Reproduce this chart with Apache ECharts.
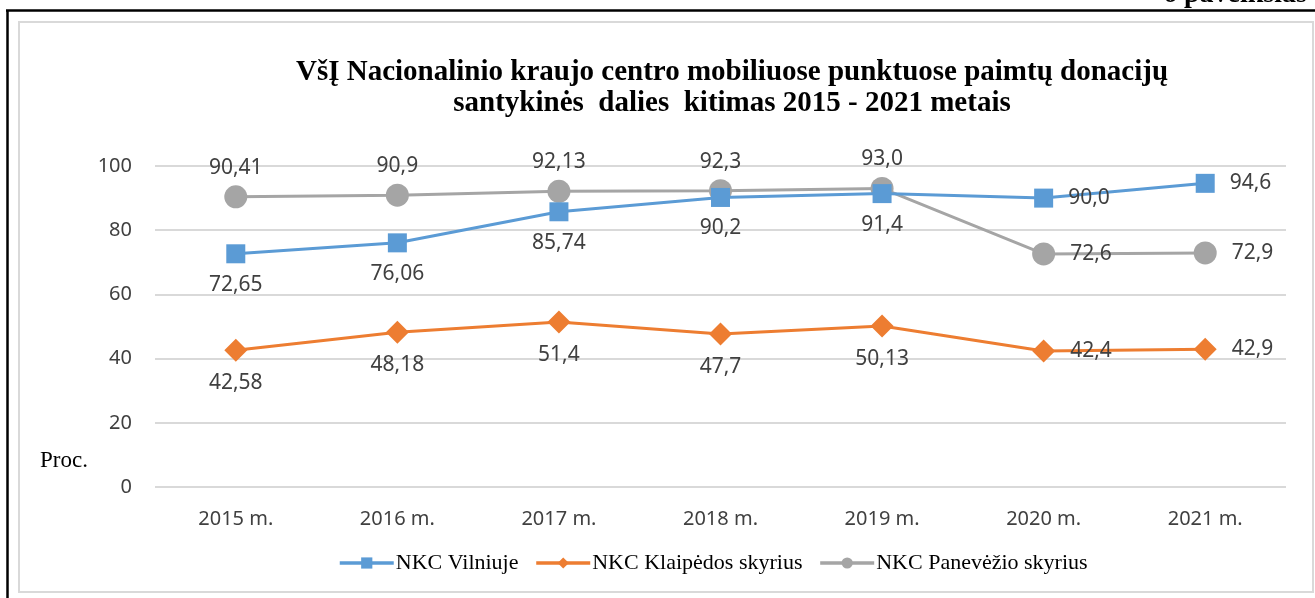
<!DOCTYPE html>
<html>
<head>
<meta charset="utf-8">
<script src="https://cdn.jsdelivr.net/npm/echarts@6/dist/echarts.min.js"></script>
<style>
  html, body { margin: 0; padding: 0; background: #fff; }
  #chart { width: 1315px; height: 598px; }
</style>
</head>
<body>
<div id="chart"></div>
<script>
const years = ["2015 m.", "2016 m.", "2017 m.", "2018 m.", "2019 m.", "2020 m.", "2021 m."];
const seriesNames = ["NKC Vilniuje", "NKC Klaipėdos skyrius", "NKC Panevėžio skyrius"];

const vilnius = [72.65, 76.06, 85.74, 90.2, 91.4, 90.0, 94.6];
const klaipeda = [42.58, 48.18, 51.4, 47.7, 50.13, 42.4, 42.9];
const panevezys = [90.41, 90.9, 92.13, 92.3, 93.0, 72.6, 72.9];

const vilniusLabels = ["72,65", "76,06", "85,74", "90,2", "91,4", "90,0", "94,6"];
const klaipedaLabels = ["42,58", "48,18", "51,4", "47,7", "50,13", "42,4", "42,9"];
const panevezysLabels = ["90,41", "90,9", "92,13", "92,3", "93,0", "72,6", "72,9"];

const yTicks = { min: 0, max: 100, interval: 20 };

const labelFont = { fontFamily: "Noto Sans", fontSize: 21, color: "#404040" };

// last two years get their labels on the right, the rest above / below
function withLabels(values, labels, side, dist) {
  return values.map((v, i) => ({
    value: v,
    label: {
      show: true,
      formatter: labels[i],
      position: i >= 5 ? "right" : side,
      distance: i >= 5 ? 15 : dist,
      ...labelFont
    }
  }));
}

const chart = echarts.init(document.getElementById("chart"));

chart.setOption({
  animation: false,
  color: ["#5B9BD5", "#ED7D31", "#A5A5A5"],
  title: {
    text: "VšĮ Nacionalinio kraujo centro mobiliuose punktuose paimtų donacijų\nsantykinės  dalies  kitimas 2015 - 2021 metais",
    left: 727,
    top: 52,
    textAlign: "center",
    textStyle: {
      fontFamily: "Liberation Serif",
      fontWeight: "bold",
      fontSize: 29,
      lineHeight: 31,
      color: "#000"
    }
  },
  grid: { left: 155, right: 29, top: 166, bottom: 111, containLabel: false },
  xAxis: {
    type: "category",
    data: years,
    boundaryGap: true,
    axisLine: { show: false },
    axisTick: { show: false },
    axisLabel: { margin: 22, fontFamily: "Noto Sans", fontSize: 20, color: "#404040" }
  },
  yAxis: {
    type: "value",
    min: yTicks.min,
    max: yTicks.max,
    interval: yTicks.interval,
    axisLine: { show: false },
    axisTick: { show: false },
    axisLabel: { margin: 23, fontFamily: "Noto Sans", fontSize: 20, color: "#404040" },
    splitLine: { lineStyle: { color: "#d9d9d9", width: 2 } }
  },
  legend: {
    bottom: 19,
    left: 333,
    itemWidth: 54,
    itemHeight: 14,
    itemGap: 16,
    lineStyle: { width: 3.5 },
    textStyle: { fontFamily: "Liberation Serif", fontSize: 22, color: "#000", padding: [0, 0, 0, -3] },
    data: seriesNames
  },
  graphic: [
    { type: "line", shape: { x1: 6, y1: 10.5, x2: 1315, y2: 10.5 }, style: { stroke: "#000", lineWidth: 2.5 } },
    { type: "line", shape: { x1: 7.5, y1: 10, x2: 7.5, y2: 598 }, style: { stroke: "#000", lineWidth: 2.5 } },
    { type: "rect", shape: { x: 19, y: 22, width: 1294, height: 570 }, style: { fill: "none", stroke: "#d9d9d9", lineWidth: 2 } },
    { type: "text", x: 1163, y: 9, style: { text: "6 paveikslas", font: "bold 28px 'Liberation Serif'", fill: "#000", textVerticalAlign: "bottom" } },
    { type: "text", x: 40, y: 461, style: { text: "Proc.", font: "23px 'Liberation Serif'", fill: "#000", textVerticalAlign: "middle" } }
  ],
  series: [
    {
      name: seriesNames[0],
      type: "line",
      symbol: "rect",
      symbolSize: 19,
      lineStyle: { width: 3 },
      data: withLabels(vilnius, vilniusLabels, "bottom", 11),
      z: 3
    },
    {
      name: seriesNames[1],
      type: "line",
      symbol: "diamond",
      symbolSize: 23,
      lineStyle: { width: 3 },
      data: withLabels(klaipeda, klaipedaLabels, "bottom", 11),
      z: 2
    },
    {
      name: seriesNames[2],
      type: "line",
      symbol: "circle",
      symbolSize: 23,
      lineStyle: { width: 3 },
      data: withLabels(panevezys, panevezysLabels, "top", 7),
      z: 2
    }
  ]
});
</script>
</body>
</html>
